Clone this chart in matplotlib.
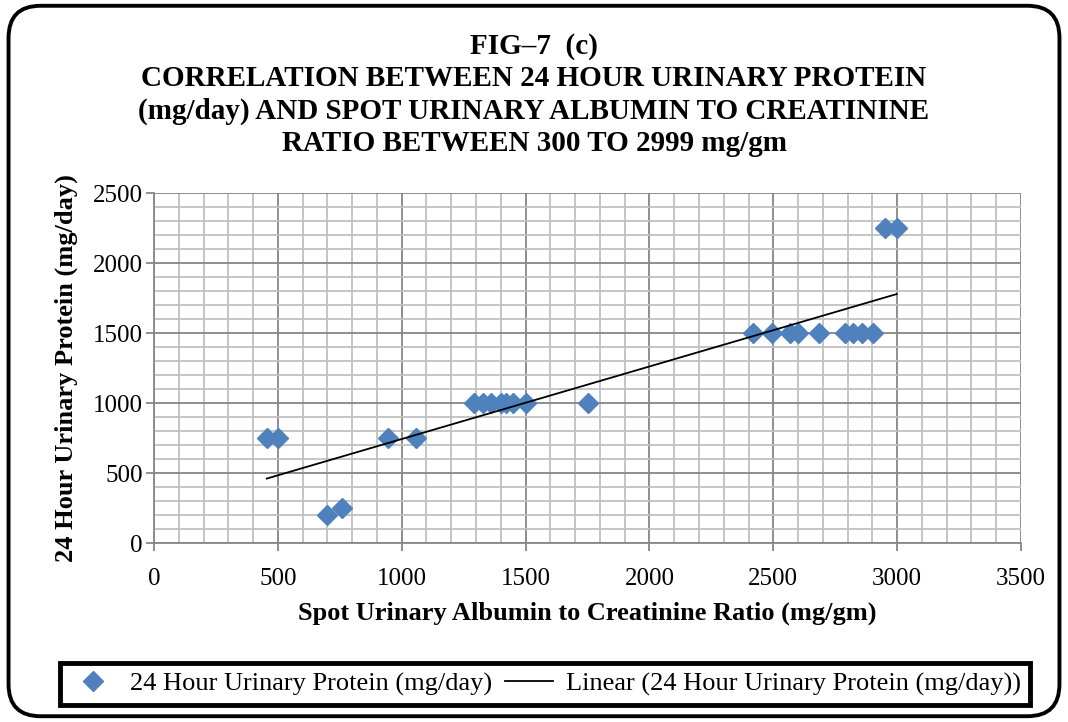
import numpy as np
import matplotlib
matplotlib.use("Agg")
import matplotlib.pyplot as plt
from matplotlib.patches import FancyBboxPatch
from matplotlib.ticker import MultipleLocator

plt.rcParams["font.family"] = ["Liberation Serif", "DejaVu Serif"]

# spot ACR (mg/gm) vs 24 h urinary protein (mg/day)
acr = [455, 500, 700, 760, 943, 1058,
       1290, 1330, 1360, 1400, 1420, 1450, 1500, 1750,
       2417, 2493, 2567, 2601, 2686, 2790, 2823, 2857, 2904,
       2951, 2998]
protein = [750, 750, 200, 250, 750, 750,
           1000, 1000, 1000, 1000, 1000, 1000, 1000, 1000,
           1500, 1500, 1500, 1500, 1500, 1500, 1500, 1500, 1500,
           2250, 2250]

series_name = "24 Hour Urinary Protein (mg/day)"
trend_name = "Linear (24 Hour Urinary Protein (mg/day))"
title_lines = ["FIG\u20137  (c)",
               "CORRELATION BETWEEN 24 HOUR URINARY PROTEIN",
               "(mg/day) AND SPOT URINARY ALBUMIN TO CREATININE",
               "RATIO BETWEEN 300 TO 2999 mg/gm"]

W, H = 1068, 722
fig = plt.figure(figsize=(W / 100, H / 100), dpi=100)
ax = fig.add_axes([154 / W, 1 - 543 / H, 867 / W, 350 / H])

# marco redondeado exterior
frame = FancyBboxPatch((0.008, 0.008), 0.984, 0.984, boxstyle="round,pad=0,rounding_size=0.03",
                       transform=fig.transFigure, fill=False, ec="black", lw=2.8,
                       mutation_aspect=W / H, zorder=0)
fig.patches.append(frame)

ax.set_xlim(0, 3500)
ax.set_ylim(0, 2500)
ax.xaxis.set_major_locator(MultipleLocator(500))
ax.yaxis.set_major_locator(MultipleLocator(500))
ax.xaxis.set_minor_locator(MultipleLocator(100))
ax.yaxis.set_minor_locator(MultipleLocator(100))
ax.grid(which="minor", color="#c0c0c0", lw=1.3)
ax.grid(which="major", color="#868686", lw=1.3)
ax.set_axisbelow(True)
for s in ["top", "right"]:
    ax.spines[s].set_visible(False)
for s in ["left", "bottom"]:
    ax.spines[s].set_color("#868686")
    ax.spines[s].set_linewidth(1.3)
ax.tick_params(which="major", length=6, color="#868686", width=1.3, labelsize=18)
ax.tick_params(axis="y", pad=2)
ax.tick_params(axis="x", pad=12)
ax.tick_params(which="minor", length=0)

ax.plot(acr, protein, "D", color="#4F81BD", ms=10, mec="#4F81BD", label=series_name, zorder=3)

k, b = np.polyfit(acr, protein, 1)
xs = np.array([min(acr), max(acr)])
ax.plot(xs, k * xs + b, color="black", lw=1.3, label=trend_name, zorder=4)

ax.set_xlabel("Spot Urinary Albumin to Creatinine Ratio (mg/gm)", fontsize=19, fontweight="bold", labelpad=8)
ax.set_ylabel("24 Hour Urinary Protein (mg/day)", fontsize=19, fontweight="bold", labelpad=11)

for i, line in enumerate(title_lines):
    fig.text(0.5, 1 - (46 + 32.5 * i) / H, line, ha="center", va="center",
             fontsize=21, fontweight="bold")

leg = fig.legend(loc="center", bbox_to_anchor=(545 / W, 1 - 684 / H), ncol=2, fontsize=19,
                 frameon=True, fancybox=False, framealpha=1, handlelength=1.8, handletextpad=0.5,
                 columnspacing=0.5, borderpad=0.35, borderaxespad=0)
leg.get_frame().set_edgecolor("black")
leg.get_frame().set_linewidth(3.5)

fig.savefig("out.png", dpi=100)
